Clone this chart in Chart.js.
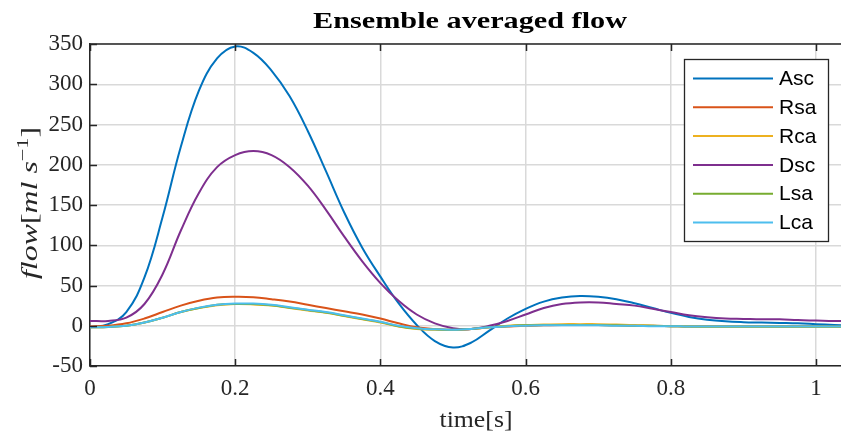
<!DOCTYPE html>
<html>
<head>
<meta charset="utf-8">
<script src="https://cdn.jsdelivr.net/npm/chart.js@4"></script>
<style>
  html, body { margin: 0; padding: 0; background: #fff; }
  canvas { display: block; }
</style>
</head>
<body>
<canvas id="flowChart" width="841" height="437"></canvas>
<script>
// =========================
// DATA
// =========================
const timeS = [
  0, 0.025, 0.05, 0.075, 0.1, 0.125, 0.15, 0.175, 0.2, 0.225,
  0.25, 0.275, 0.3, 0.325, 0.35, 0.375, 0.4, 0.425, 0.45, 0.475,
  0.5, 0.525, 0.55, 0.575, 0.6, 0.625, 0.65, 0.675, 0.7, 0.725,
  0.75, 0.775, 0.8, 0.825, 0.85, 0.875, 0.9, 0.925, 0.95, 0.975,
  1.0, 1.025, 1.05
];

const asc = [
  -2, 2, 17, 60, 135, 222, 292, 332, 347, 339,
  317, 285, 242, 192, 141, 97, 61, 28, 1, -19,
  -27, -21, -6, 9, 21, 30, 35, 37, 36, 33,
  28, 22, 16, 11, 7.5, 5.5, 4.5, 4, 3.5, 3,
  2, 1, 0
];

const rsa = [
  -1, 0, 3, 9, 17, 25, 31, 35, 36, 35.5,
  33, 30, 26, 22, 18, 14, 9, 3, -2, -4,
  -5, -4, -2, -1, 0, 0.5, 1, 1, 1, 0.5,
  0, 0, -0.5, -1, -1, -1, -1, -1, -1, -1,
  -1, -1, -1
];

const rca = [
  -2, -1.5, 0, 4, 10, 17, 22, 25.5, 27, 26.5,
  25, 22, 19, 16, 12, 8, 4, -1, -4, -5,
  -5, -4, -2, 0, 1, 1.5, 2, 2, 2, 1.5,
  1, 0, -0.5, -1, -1.5, -1.5, -1.5, -1.5, -1.5, -1.5,
  -1.5, -1.5, -1.5
];

const dsc = [
  6, 6, 10, 27, 64, 118, 165, 197, 212, 217,
  212, 197, 174, 144, 111, 80, 53, 31, 14, 3,
  -3, -4, 0, 6, 14, 22, 27, 29, 29, 27,
  25, 21, 17, 13, 10.5, 9, 8.5, 8, 8, 7,
  6.5, 6, 6
];

const lsa = [
  -2, -1.5, 0, 4, 10, 17, 22, 26, 27, 27,
  25.5, 22.5, 19.5, 16.5, 12.5, 8.5, 4.5, -0.5, -3.5, -4.5,
  -5, -4, -2, -0.5, 0.5, 1, 1, 1, 1, 0.5,
  0, 0, -0.5, -1, -1, -1, -1, -1, -1, -1,
  -1, -1, -1
];

const lca = [
  -2, -1.5, 0, 4, 10, 17, 22.5, 26, 27.5, 27.5,
  26, 23, 20, 17, 13, 9, 5, 0, -3, -4.5,
  -5, -4, -2, -0.5, 0, 0.5, 0.5, 0.5, 0.5, 0,
  0, -0.5, -0.5, -1, -1, -1, -1, -1, -1, -1,
  -1, -1, -1
];

const seriesNames = ["Asc", "Rsa", "Rca", "Dsc", "Lsa", "Lca"];
const seriesValues = [asc, rsa, rca, dsc, lsa, lca];
const seriesColors = ["#0072BD", "#D95319", "#EDB120", "#7E2F8E", "#77AC30", "#4DBEEE"];

const chartTitle = "Ensemble averaged flow";
const xLabel = "time[s]";

const serif = "'Liberation Serif', 'DejaVu Serif', serif";
const sans = "'Liberation Sans', Arial, sans-serif";
const axisColor = "#262626";

// Text drawn squeezed/stretched to a target width
function fitText(ctx, text, cx, y, width) {
  const w = ctx.measureText(text).width;
  ctx.save();
  ctx.translate(cx, y);
  ctx.scale(width / w, 1);
  ctx.textAlign = "center";
  ctx.fillText(text, 0, 0);
  ctx.restore();
}

// =========================
// DECORATIONS (MATLAB look)
// =========================
const matlabAxes = {
  id: "matlabAxes",
  afterDraw(c) {
    const ctx = c.ctx;
    const a = c.chartArea;
    const xs = c.scales.x;
    const ys = c.scales.y;

    // top border + inward ticks
    ctx.save();
    ctx.strokeStyle = axisColor;
    ctx.lineWidth = 1.5;
    ctx.beginPath();
    ctx.moveTo(a.left, a.top);
    ctx.lineTo(a.right, a.top);
    ctx.stroke();

    ctx.beginPath();
    xs.ticks.forEach(t => {
      const px = Math.round(xs.getPixelForValue(t.value)) + 0.5;
      ctx.moveTo(px, a.bottom);
      ctx.lineTo(px, a.bottom - 7);
      ctx.moveTo(px, a.top);
      ctx.lineTo(px, a.top + 7);
    });
    ys.ticks.forEach(t => {
      const py = Math.round(ys.getPixelForValue(t.value)) + 0.5;
      ctx.moveTo(a.left, py);
      ctx.lineTo(a.left + 7, py);
    });
    ctx.stroke();

    // title
    ctx.fillStyle = "#000";
    ctx.font = "bold 24px " + serif;
    ctx.textBaseline = "alphabetic";
    fitText(ctx, chartTitle, 470, 28, 314);

    // x label
    ctx.fillStyle = axisColor;
    ctx.font = "23px " + serif;
    fitText(ctx, xLabel, 476, 427, 73);

    // y label: flow[ml s^-1]
    const parts = [
      { t: "flow", f: "italic 23px " + serif, dy: 0 },
      { t: "[", f: "23px " + serif, dy: 0 },
      { t: "ml", f: "italic 23px " + serif, dy: 0 },
      { t: " ", f: "23px " + serif, dy: 0 },
      { t: "s", f: "italic 23px " + serif, dy: 0 },
      { t: "\u22121", f: "16px " + serif, dy: -9 },
      { t: "]", f: "23px " + serif, dy: 0 }
    ];
    let total = 0;
    parts.forEach(p => { ctx.font = p.f; p.w = ctx.measureText(p.t).width; total += p.w; });
    const target = 152;
    ctx.save();
    ctx.translate(37, 203);
    ctx.rotate(-Math.PI / 2);
    ctx.scale(target / total, 1);
    let x = -total / 2;
    parts.forEach(p => {
      ctx.font = p.f;
      ctx.textAlign = "left";
      ctx.fillText(p.t, x, p.dy);
      x += p.w;
    });
    ctx.restore();

    // legend box
    const lx = 684, ly = 59, lw = 144, lh = 182;
    ctx.fillStyle = "#fff";
    ctx.fillRect(lx, ly, lw, lh);
    ctx.strokeStyle = axisColor;
    ctx.lineWidth = 1.3;
    ctx.strokeRect(lx + 0.5, ly + 0.5, lw, lh);

    ctx.font = "21px " + sans;
    ctx.textBaseline = "middle";
    ctx.textAlign = "left";
    seriesNames.forEach((name, i) => {
      const yy = 78.5 + i * 28.8;
      ctx.strokeStyle = seriesColors[i];
      ctx.lineWidth = 2;
      ctx.beginPath();
      ctx.moveTo(693, yy);
      ctx.lineTo(773, yy);
      ctx.stroke();
      ctx.fillStyle = "#000";
      ctx.fillText(name, 779, yy + 1);
    });
    ctx.restore();
  }
};

// =========================
// CHART
// =========================
const datasets = seriesNames.map((name, i) => ({
  label: name,
  data: timeS.map((t, k) => ({ x: t, y: seriesValues[i][k] })),
  borderColor: seriesColors[i],
  borderWidth: 2,
  pointRadius: 0,
  tension: 0.4,
  fill: false,
  order: seriesNames.length - i
}));

new Chart(document.getElementById("flowChart"), {
  type: "line",
  data: { datasets },
  plugins: [matlabAxes],
  options: {
    responsive: false,
    animation: false,
    devicePixelRatio: 1,
    layout: { padding: { top: 44, right: 0, left: 0, bottom: 0 } },
    plugins: {
      legend: { display: false },
      title: { display: false },
      tooltip: { enabled: false }
    },
    scales: {
      x: {
        type: "linear",
        min: 0,
        max: 1.0344,
        afterFit: s => { s.height = 71; },
        border: { color: axisColor, width: 1.5 },
        grid: { color: "#d9d9d9", lineWidth: 1.5, drawTicks: false },
        ticks: {
          stepSize: 0.2,
          includeBounds: false,
          maxRotation: 0,
          padding: 9,
          color: axisColor,
          font: { family: serif, size: 23 },
          callback: v => String(Number(v.toFixed(1)))
        }
      },
      y: {
        min: -50,
        max: 350,
        afterFit: s => { s.width = 90; },
        border: { color: axisColor, width: 1.5 },
        grid: { color: "#d9d9d9", lineWidth: 1.5, drawTicks: false },
        ticks: {
          stepSize: 50,
          padding: 7,
          color: axisColor,
          font: { family: serif, size: 23 }
        }
      }
    }
  }
});
</script>
</body>
</html>
